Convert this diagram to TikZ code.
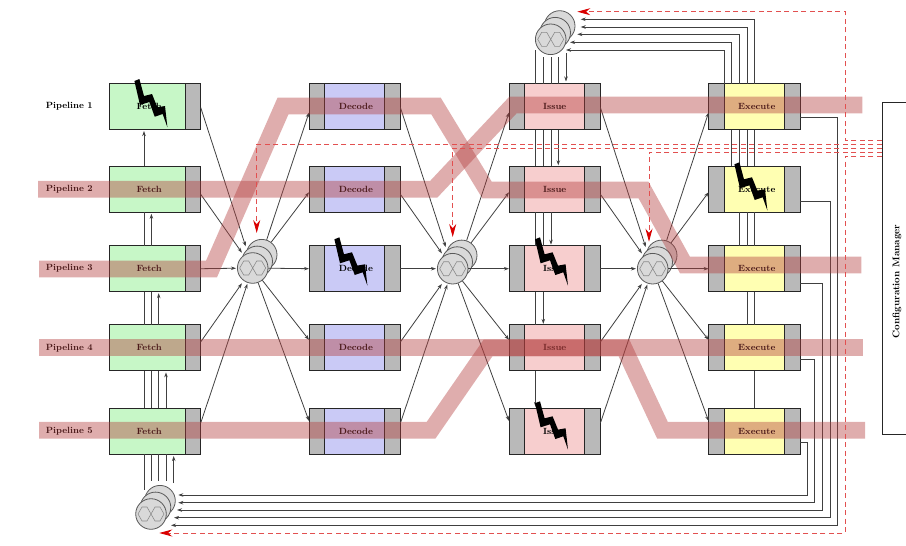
\documentclass[tikz,border=0pt]{standalone}
\usetikzlibrary{positioning,arrows.meta}
\definecolor{fetchc}{RGB}{199,247,199}
\definecolor{decodec}{RGB}{202,202,246}
\definecolor{issuec}{RGB}{247,206,206}
\definecolor{executec}{RGB}{255,255,178}
\definecolor{stripc}{RGB}{185,185,185}
\definecolor{bandc}{RGB}{178,60,60}
\definecolor{dashc}{RGB}{226,80,80}
\tikzset{
  stage/.style={draw=black!85,line width=0.9pt,minimum height=46pt,minimum width=60pt,inner sep=0pt,outer sep=0pt,font=\fontsize{9}{10}\selectfont\bfseries},
  strip/.style={stage,fill=stripc,minimum width=15.7pt},
  pipelabel/.style={font=\fontsize{9}{10}\selectfont\bfseries,inner sep=0pt},
  link/.style={draw=black!75,line width=0.8pt},
  band/.style={draw=bandc,opacity=0.42,line width=16.7pt},
  redflow/.style={draw=dashc,line width=0.8pt,dash pattern=on 5pt off 3.5pt,-{Stealth[length=13pt,width=7pt,red!85!black]}},
  xround/.style={circle,draw=black!65,fill=black!15,line width=0.8pt,minimum size=30.6pt,inner sep=0pt},
  bolt/.pic={\fill[black] (-2.3,1) -- (2.7,-1) -- (7.3,16) -- (15.3,14) -- (20.7,27.3) -- (28.3,26) -- (30.7,47.3) -- (26,34) -- (18,36.7) -- (12.7,22) -- (3.3,25) -- cycle;}
}
\newcommand{\crossbar}[3]{%
  \node[xround] (#1b) at (#2+9,#3-13.3) {};
  \node[xround] (#1m) at (#2+4.5,#3-6.6) {};
  \node[xround] (#1) at (#2,#3) {};
  \draw[black!45,line width=0.6pt,shift={(#2,#3)}] (-13,0) -- (-9,-7) -- (-4,-7) -- (4,7) -- (9,7) -- (13,0) -- (9,-7) -- (4,-7) -- (-4,7) -- (-9,7) -- cycle;
}
\begin{document}
\begin{tikzpicture}[x=1pt,y=-1pt,>={Stealth[length=5pt,width=3.5pt]}]
  \useasboundingbox (0,0) rectangle (906,546);
  \foreach \r/\y in {1/106.5,2/189.3,3/268.7,4/347.9,5/431}{
    \node[pipelabel] (p\r) at (69.3,\y) {Pipeline \r};
    \node[stage,fill=fetchc,minimum width=75.7pt] (f\r) at (147.15,\y) {\hspace{4pt}Fetch};
    \node[strip,right=0pt of f\r] (fr\r) {};
    \node[stage,fill=decodec] (d\r) at (354.7,\y) {\hspace{2.5pt}Decode};
    \node[strip,left=0pt of d\r] (dl\r) {};
    \node[strip,right=0pt of d\r] (dr\r) {};
    \node[stage,fill=issuec] (i\r) at (554.7,\y) {Issue};
    \node[strip,left=0pt of i\r] (il\r) {};
    \node[strip,right=0pt of i\r] (ir\r) {};
    \node[stage,fill=executec] (e\r) at (754.3,\y) {\hspace{5pt}Execute};
    \node[strip,left=0pt of e\r] (el\r) {};
    \node[strip,right=0pt of e\r] (er\r) {};
  }
  \crossbar{xa}{252.7}{268}
  \crossbar{xb}{452.7}{268.7}
  \crossbar{xc}{652.7}{268.7}
  \crossbar{xt}{550.7}{39.3}
  \crossbar{xu}{151}{514}
  \node[draw=black!85,line width=0.9pt,minimum width=30pt,minimum height=331.6pt] (cm) at (897.3,268.5) {};
  \node[pipelabel,rotate=90,font=\fontsize{9.7}{11}\selectfont\bfseries] (cmlabel) at (897,281.5) {Configuration Manager};

  \foreach \a/\b/\x in {fr/dl/xa,dr/il/xb,ir/el/xc}{
    \foreach \r/\so/\gap in {1/-1/7,2/-5/3,3/0/1,4/6/3,5/8/1}
      \draw[link,->,shorten >=\gap pt] ([yshift=\so pt]\a\r.east) -- (\x);
    \draw[link,<-] ([yshift=-6pt]\b1.west) -- (\x b);
    \draw[link,<-] ([yshift=-3pt]\b2.west) -- (\x b);
    \foreach \r/\si in {3/0,4/8,5/10}
      \draw[link,<-] ([yshift=\si pt]\b\r.west) -- (\x);
  }

  % fetch bus
  \foreach \up/\dn/\xx in {f4/f5/144,f4/f5/151.4,f4/f5/158.7,f3/f4/144,f3/f4/151.4,f2/f3/144}
    \draw[link] (\xx,0 |- \up.south) -- (\xx,0 |- \dn.north);
  \foreach \up/\dn/\xx in {f1/f2/144,f2/f3/151.4,f3/f4/158.7,f4/f5/166}
    \draw[link,->,shorten >=1.5pt] (\xx,0 |- \dn.north) -- (\xx,0 |- \up.south);
  \draw[link] (144,0 |- f5.south) -- ++(0,36);
  \foreach \xx in {151.4,158.7,166}
    \draw[link] (\xx,0 |- f5.south) -- ++(0,27);
  \draw[link,->,shorten >=2pt] (173.7,483) -- (173.7,0 |- f5.south);

  % issue bus
  \foreach \up/\dn/\xx in {i1/i2/535.7,i1/i2/543.3,i1/i2/551,i2/i3/535.7,i2/i3/543.3,i3/i4/535.7}
    \draw[link] (\xx,0 |- \up.south) -- (\xx,0 |- \dn.north);
  \foreach \up/\dn/\xx in {i1/i2/558.3,i2/i3/551,i3/i4/543.3,i4/i5/535.7}
    \draw[link,->,shorten >=1pt] (\xx,0 |- \up.south) -- (\xx,0 |- \dn.north);
  \draw[link] (535.7,0 |- i1.north) -- ++(0,-33.5);
  \foreach \xx in {543.3,551,558.3}
    \draw[link] (\xx,0 |- i1.north) -- ++(0,-26.2);
  \draw[link,->,shorten >=2pt] (566,53) -- (566,0 |- i1.north);

  % execute bus
  \foreach \up/\dn/\xx in {e1/e2/731.7,e1/e2/739.3,e1/e2/747,e1/e2/754.7,e2/e3/739.3,e2/e3/747,e2/e3/754.7,e3/e4/747,e3/e4/754.7,e4/e5/754.7}
    \draw[link] (\xx,0 |- \up.south) -- (\xx,0 |- \dn.north);
  \foreach \k/\xx/\yy/\tip in {1/724.3/50/566,2/731.7/42.3/570,3/739.3/34.3/577.3,4/747/27/580.7,5/754.7/19.3/580.7}{
    \coordinate (tt\k) at (\tip,\yy);
    \draw[link,->] (\xx,0 |- e1.north) |- (tt\k);
  }
  \foreach \r/\so/\xx/\yy/\tip in {1/11/837.7/525.3/171,2/11.7/830/517.7/174,3/14.6/822.3/510/177,4/11/814.7/502.7/178.3,5/11.3/807.3/495/178.3}{
    \coordinate (tb\r) at (\tip,\yy);
    \draw[link,->] ([yshift=-\so pt]er\r.east) -| (\xx,\yy) -- (tb\r);
  }

  \draw[band] (38,189.3) -- (433.7,189.3) -- (513,105) -- (862.3,105);
  \draw[band] (39,269) -- (211.5,269) -- (283,106) -- (436,106) -- (487,190) -- (643.5,190) -- (685,265) -- (861.3,265);
  \draw[band] (39,347.7) -- (862.7,347.7);
  \draw[band] (39,430.3) -- (431,430.3) -- (488,348) -- (624,348) -- (662.5,430.3) -- (865,430.3);

  \coordinate (ra) at (256.7,233);
  \coordinate (rb) at (452.7,237);
  \coordinate (rc) at (649,241.7);
  \coordinate (rt) at (577.3,11.7);
  \coordinate (ru) at (159.3,533);
  \draw[redflow] (cm.west |- 0,144) -| (ra);
  \draw[redflow] (cm.west |- 0,148) -| (rb);
  \draw[redflow] (cm.west |- 0,152) -| (rc);
  \draw[redflow] (cm.west |- 0,140) -- (845,140) |- (rt);
  \draw[redflow] (cm.west |- 0,156) -- (845,156) |- (ru);

  \pic at (136.7,80) {bolt};
  \pic at (336.7,238.3) {bolt};
  \pic at (537.3,238.3) {bolt};
  \pic at (537.3,402.3) {bolt};
  \pic at (736.7,163.3) {bolt};
\end{tikzpicture}
\end{document}
